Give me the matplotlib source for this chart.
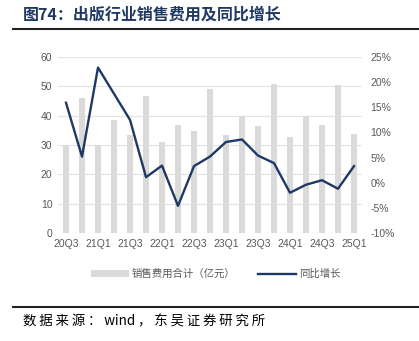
import matplotlib
matplotlib.use("Agg")
import re
import matplotlib.pyplot as plt
from matplotlib.lines import Line2D
from matplotlib.patches import Patch

categories = ["20Q3","20Q4","21Q1","21Q2","21Q3","21Q4","22Q1","22Q2","22Q3","22Q4",
              "23Q1","23Q2","23Q3","23Q4","24Q1","24Q2","24Q3","24Q4","25Q1"]
sales_expense = [30.0, 46.1, 30.0, 38.5, 33.4, 46.7, 30.9, 36.8, 34.8, 49.0,
                 33.4, 39.9, 36.5, 50.8, 32.7, 39.9, 36.7, 50.4, 33.6]
yoy_growth = [15.9, 5.2, 22.9, 17.7, 12.5, 1.1, 3.4, -4.6, 3.3, 5.2,
              8.1, 8.6, 5.4, 3.9, -2.0, -0.4, 0.5, -1.2, 3.3]
title = "图74：出版行业销售费用及同比增长"
source = "数据来源：wind，东吴证券研究所"
legend_labels = ["销售费用合计（亿元）", "同比增长"]

plt.rcParams['font.family'] = ['Liberation Sans', 'Noto Sans CJK SC', 'DejaVu Sans']
CJK = ['Noto Sans CJK SC', 'DejaVu Sans']

W, H = 419, 341
fig = plt.figure(figsize=(W/100, H/100), dpi=100)

bar_color = "#DADADA"
line_color = "#1F3864"
tick_color = "#595959"

ax = fig.add_axes([58/W, 1-233/H, 304/W, 176/H])
x = list(range(len(categories)))
ax.bar(x, sales_expense, width=0.4, color=bar_color, zorder=2)
ax.set_ylim(0, 60)
ax.set_yticks(range(0, 61, 10))
ax.set_xlim(-0.5, len(categories)-0.5)
ax.set_xticks(x[::2])
ax.set_xticklabels(categories[::2])
ax.grid(axis='y', color="#E3E3E3", lw=0.8, zorder=0)
ax.set_axisbelow(True)
for s in ax.spines.values():
    s.set_visible(False)
ax.tick_params(axis='both', length=0, labelsize=7.5, colors=tick_color, pad=4)

ax2 = ax.twinx()
ax2.plot(x, yoy_growth, color=line_color, lw=1.7, zorder=3)
ax2.set_ylim(-10, 25)
ax2.set_yticks(range(-10, 26, 5))
ax2.set_yticklabels([f"{v}%" for v in range(-10, 26, 5)])
for s in ax2.spines.values():
    s.set_visible(False)
ax2.tick_params(axis='y', length=0, labelsize=7.5, colors=tick_color, pad=6)
ax2.set_xlim(-0.5, len(categories)-0.5)


def spaced(s):
    return "\u2009".join(re.findall(r"[A-Za-z0-9]+|.", s))

# title
fig.text(23/W, 1-15/H, title, fontsize=11.5, fontweight='bold', color="#1F3864",
         va='center', ha='left', family=CJK)
fig.add_artist(Line2D([13/W, 1.0], [1-29/H, 1-29/H], color="#222222", lw=1.5))

# legend
handles = [Patch(facecolor=bar_color, edgecolor='none'),
           Line2D([0], [0], color=line_color, lw=1.7)]
leg = fig.legend(handles, legend_labels, loc='center', bbox_to_anchor=(0.515, 1-274/H),
                 ncol=2, frameon=False, handlelength=3.6, handleheight=0.6,
                 columnspacing=2.2, handletextpad=0.3,
                 prop={'family': CJK, 'size': 7.5})
for t in leg.get_texts():
    t.set_color(tick_color)

# source
fig.add_artist(Line2D([13/W, 1.0], [1-307/H, 1-307/H], color="#222222", lw=1.5))
fig.text(23/W, 1-321/H, spaced(source), fontsize=9.7, color="black",
         va='center', ha='left', family=CJK)

fig.savefig("out.png", dpi=100)
